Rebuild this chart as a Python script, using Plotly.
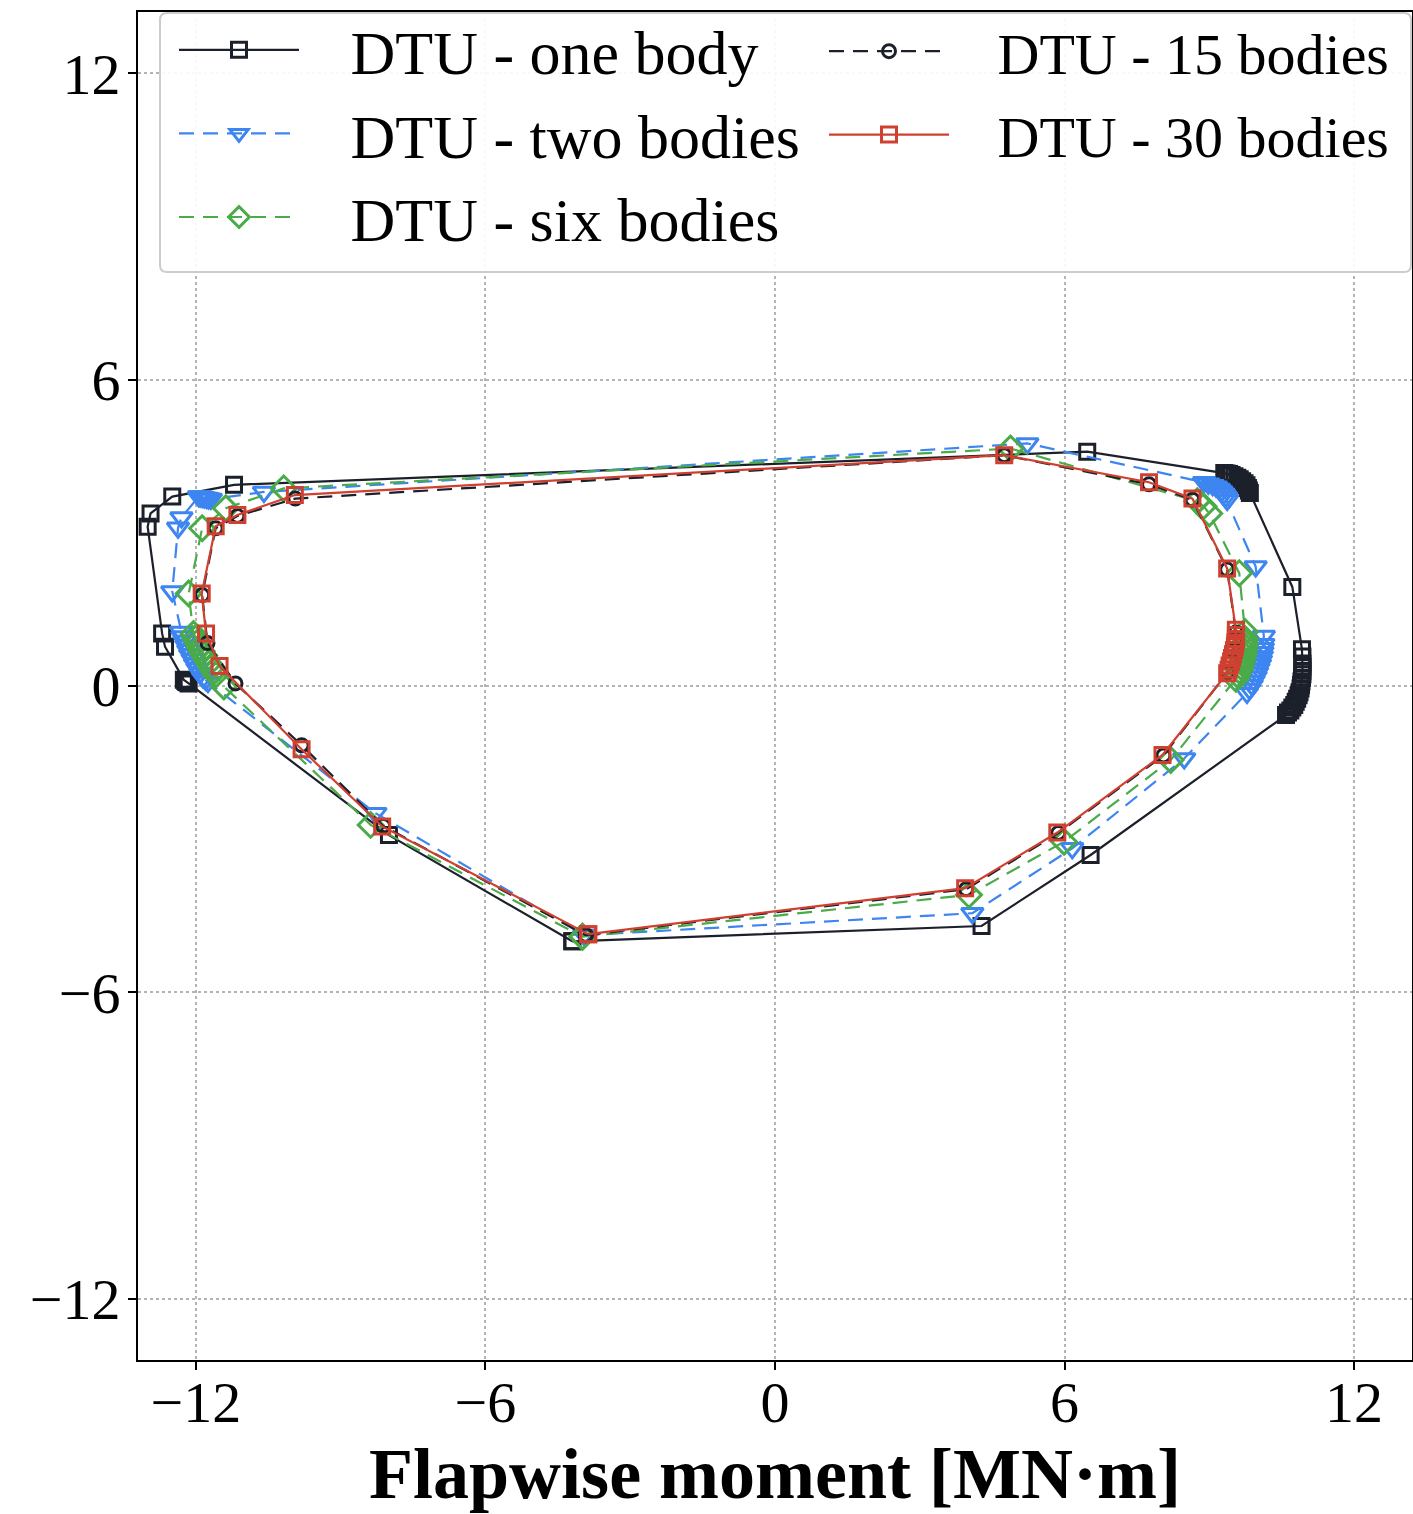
import plotly.graph_objects as go

# ---- data (flapwise moment x, edgewise moment y) in MN·m ----
one_x = [-4.20, 4.28, 6.54,
         10.59, 10.63, 10.68, 10.72, 10.76, 10.79, 10.82, 10.85, 10.87, 10.89, 10.90,
         10.91, 10.92, 10.93, 10.93, 10.93, 10.93, 10.93, 10.92,
         10.72,
         9.84, 9.82, 9.80, 9.77, 9.73, 9.68, 9.63, 9.58, 9.52, 9.46, 9.41, 9.36, 9.31,
         6.47, -11.21, -12.49, -12.94, -13.00, -12.70, -12.64,
         -12.25, -12.22, -12.20, -12.17, -12.15, -8.00, -4.20]
one_y = [-5.00, -4.70, -3.31,
         -0.57, -0.52, -0.48, -0.42, -0.37, -0.31, -0.25, -0.18, -0.12, -0.05, 0.02,
         0.09, 0.16, 0.23, 0.30, 0.37, 0.44, 0.58, 0.72,
         1.94,
         3.78, 3.83, 3.88, 3.93, 3.97, 4.01, 4.05, 4.08, 4.11, 4.13, 4.15, 4.16, 4.17,
         4.59, 3.94, 3.71, 3.38, 3.12, 1.03, 0.77,
         0.12, 0.10, 0.08, 0.07, 0.05, -2.92, -5.00]

two_x = [-3.95, 4.09, 6.16, 8.48,
         9.78, 9.83, 9.88, 9.92, 9.96, 9.99, 10.02, 10.05, 10.07, 10.09, 10.10, 10.11, 10.12, 10.13,
         9.96,
         9.37, 9.34, 9.30, 9.25, 9.20, 9.14, 9.07, 8.98, 8.89,
         5.23, -10.59, -11.69, -11.74, -11.78, -11.83, -11.87, -11.91, -11.94,
         -12.30, -12.37, -12.49,
         -12.31, -12.28, -12.24, -12.20, -12.16, -12.12, -12.07, -12.02, -11.97, -11.91,
         -11.85, -11.80, -11.75,
         -8.28, -3.95]
two_y = [-4.88, -4.45, -3.18, -1.42,
         -0.14, -0.06, 0.02, 0.10, 0.18, 0.26, 0.34, 0.42, 0.50, 0.58, 0.66, 0.74, 0.82, 0.98,
         2.34,
         3.64, 3.70, 3.76, 3.81, 3.86, 3.90, 3.93, 3.96, 3.99,
         4.75, 3.80, 3.66, 3.67, 3.68, 3.69, 3.70, 3.71, 3.71,
         3.30, 3.10, 1.85,
         1.06, 0.97, 0.88, 0.79, 0.70, 0.61, 0.52, 0.43, 0.34, 0.25,
         0.16, 0.12, 0.08,
         -2.49, -4.88]

six_x = [-3.99, 4.02, 5.99, 8.20,
         9.55, 9.58, 9.62, 9.65, 9.67, 9.69, 9.71, 9.72, 9.73, 9.74, 9.74, 9.74,
         9.62, 9.00, 8.88, 8.75,
         4.88, -10.18, -11.38, -11.87, -12.15,
         -12.05, -12.01, -11.97, -11.92, -11.88, -11.83, -11.78, -11.73, -11.68, -11.63, -11.59,
         -11.42, -8.38, -3.99]
six_y = [-4.91, -4.09, -3.05, -1.45,
         0.14, 0.22, 0.30, 0.38, 0.46, 0.54, 0.62, 0.70, 0.78, 0.85, 0.92, 1.06,
         2.21, 3.38, 3.52, 3.62,
         4.65, 3.87, 3.48, 3.09, 1.81,
         1.02, 0.93, 0.85, 0.76, 0.68, 0.60, 0.52, 0.44, 0.36, 0.29, 0.22,
         -0.01, -2.72, -4.91]

b15_x = [-3.92, 3.96, 5.87, 8.05,
         9.38, 9.44, 9.50, 9.54, 9.55,
         9.37, 8.65, 7.75, 4.75,
         -9.94, -11.14, -11.59, -11.87, -11.76, -11.18,
         -9.81, -8.12, -3.92]
b15_y = [-4.88, -3.98, -2.88, -1.36,
         0.27, 0.48, 0.70, 0.90, 1.05,
         2.28, 3.65, 3.95, 4.52,
         3.67, 3.33, 3.09, 1.78, 0.84, 0.05,
         -1.16, -2.74, -4.88]

b30_x = [-3.87, 3.94, 5.85, 8.03,
         9.37, 9.40, 9.42, 9.45, 9.47, 9.49, 9.51, 9.53, 9.54, 9.55, 9.55, 9.55,
         9.37, 8.65, 7.75, 4.75,
         -9.95, -11.14, -11.59, -11.88, -11.79, -11.51,
         -9.81, -8.14, -3.87]
b30_y = [-4.86, -3.96, -2.87, -1.35,
         0.25, 0.32, 0.40, 0.48, 0.55, 0.62, 0.70, 0.78, 0.85, 0.92, 1.00, 1.10,
         2.30, 3.67, 3.99, 4.52,
         3.74, 3.35, 3.13, 1.81, 1.03, 0.39,
         -1.24, -2.75, -4.86]

tick_vals = [-12, -6, 0, 6, 12]

BLACK = "#1b202b"
BLUE = "#3d85f0"
GREEN = "#4aab48"
RED = "#cf4030"

FONT = "Liberation Serif"
PAD = "\u00a0\u00a0\u00a0"

W, H = 1413, 1514
ML, MR, MT, MB = 138, 1, 12, 154
PW, PH = W - ML - MR, H - MT - MB

fig = go.Figure()

def add(x, y, name, color, dash, symbol, size, legend):
    fig.add_trace(go.Scatter(
        x=x, y=y, name=PAD + name, mode="lines+markers",
        line=dict(color=color, width=2.2, dash=dash),
        marker=dict(symbol=symbol, size=size, color=color,
                    line=dict(color=color, width=3)),
        legend=legend, legendgroup=name,
    ))

DASH = "15px,9px"
add(one_x, one_y, "DTU - one body", BLACK, "solid", "square-open", 15, "legend")
add(two_x, two_y, "DTU - two bodies", BLUE, DASH, "triangle-down-open", 19, "legend")
add(six_x, six_y, "DTU - six bodies", GREEN, DASH, "diamond-open", 19, "legend")
add(b15_x, b15_y, "DTU - 15 bodies", BLACK, DASH, "circle-open", 13, "legend2")
add(b30_x, b30_y, "DTU - 30 bodies", RED, "solid", "square-open", 15, "legend2")

axis_common = dict(
    range=[-13.2, 13.2],
    tickvals=tick_vals,
    showgrid=True, gridcolor="#b4b4b4", griddash="dot", gridwidth=1.5,
    zeroline=False,
    showline=True, linecolor="black", linewidth=2, mirror=True,
    ticks="outside", ticklen=8, tickwidth=2, tickcolor="black",
    tickfont=dict(family=FONT, size=58, color="black"),
)

# legend frame (page pixels -> paper coords)
bx0, bx1 = (160 - ML) / PW, (1411 - ML) / PW
by0, by1 = (MT + PH - 272) / PH, (MT + PH - 13) / PH
rx, ry = 7 / PW, 7 / PH
frame_path = (f"M{bx0+rx},{by1} L{bx1-rx},{by1} Q{bx1},{by1} {bx1},{by1-ry} "
              f"L{bx1},{by0+ry} Q{bx1},{by0} {bx1-rx},{by0} "
              f"L{bx0+rx},{by0} Q{bx0},{by0} {bx0},{by0+ry} "
              f"L{bx0},{by1-ry} Q{bx0},{by1} {bx0+rx},{by1} Z")

leg_common = dict(
    orientation="v", yanchor="top", xanchor="left",
    traceorder="normal", itemwidth=120,
    bgcolor="rgba(0,0,0,0)", borderwidth=0,
)

fig.update_layout(
    width=W, height=H,
    margin=dict(l=ML, r=MR, t=MT, b=MB, autoexpand=False),
    plot_bgcolor="white", paper_bgcolor="white",
    xaxis=dict(axis_common, ticklabelstandoff=-18,
               title=dict(text="<b>Flapwise moment [MN·m]</b>",
                          font=dict(family=FONT, size=72, color="black"),
                          standoff=8)),
    yaxis=dict(axis_common, ticklabelstandoff=-4),
    legend=dict(leg_common, x=(174 - ML) / PW, y=1 + 9 / PH,
                font=dict(family=FONT, size=62, color="black")),
    legend2=dict(leg_common, x=(824 - ML) / PW, y=1 + 5 / PH,
                 traceorder="grouped", tracegroupgap=5,
                 font=dict(family=FONT, size=58, color="black")),
    shapes=[dict(type="path", xref="paper", yref="paper", path=frame_path,
                 fillcolor="rgba(255,255,255,0.92)",
                 line=dict(color="#cccccc", width=2), layer="above")],
)

fig.write_html(
    "out.html",
    config={"displayModeBar": False},
    post_script="document.body.style.margin='0';document.body.style.overflow='hidden';",
)
